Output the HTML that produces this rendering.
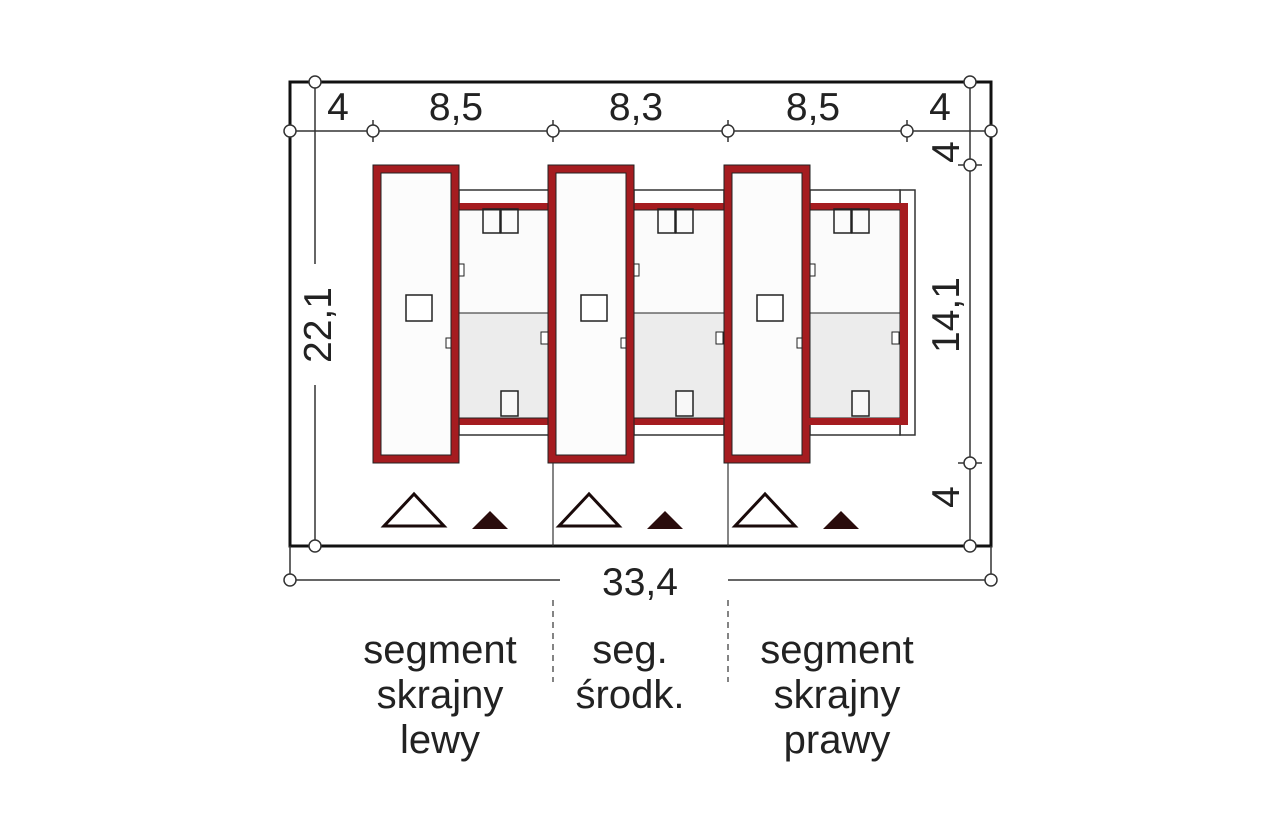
<!DOCTYPE html>
<html><head><style>html,body{margin:0;padding:0;background:#fff;}</style></head>
<body>
<svg width="1280" height="822" viewBox="0 0 1280 822" xmlns="http://www.w3.org/2000/svg" font-family="Liberation Sans, sans-serif">
<defs>
<g id="seg">
  <rect x="459" y="190" width="90" height="245" fill="#fff" stroke="#333" stroke-width="1.5"/>
  <rect x="459" y="203" width="90" height="222" fill="#a51c20"/>
  <rect x="459" y="210" width="90" height="208" fill="#fbfbfb" stroke="#222" stroke-width="1"/>
  <rect x="459" y="313" width="90" height="105" fill="#ececec" stroke="#222" stroke-width="1"/>
  <rect x="483" y="209" width="17" height="24" fill="none" stroke="#222" stroke-width="1.5"/>
  <rect x="501" y="209" width="17" height="24" fill="none" stroke="#222" stroke-width="1.5"/>
  <rect x="501" y="391" width="17" height="25" fill="#f8f8f8" stroke="#222" stroke-width="1.5"/>
  <rect x="459" y="264" width="5" height="12" fill="#fff" stroke="#222" stroke-width="1"/>
  <rect x="541" y="332" width="7" height="12" fill="#fff" stroke="#222" stroke-width="1"/>
  <rect x="373" y="165" width="86" height="298" fill="#a51c20" stroke="#222" stroke-width="1"/>
  <rect x="381" y="173" width="70" height="282" fill="#fcfcfc" stroke="#222" stroke-width="1"/>
  <rect x="406" y="295" width="26" height="26" fill="#fff" stroke="#222" stroke-width="1.5"/>
  <rect x="446" y="338" width="5" height="10" fill="#fff" stroke="#222" stroke-width="1"/>
  <polygon points="414,494 384,526 444,526" fill="#fff" stroke="#1a0a0a" stroke-width="3"/>
  <polygon points="490,511 472,529 508,529" fill="#2a0c0c"/>
</g>
</defs>
<rect x="900" y="190" width="15" height="245" fill="#fff" stroke="#333" stroke-width="1.5"/>
<use href="#seg"/>
<use href="#seg" transform="translate(175,0)"/>
<use href="#seg" transform="translate(351,0)"/>
<rect x="900" y="203" width="8" height="222" fill="#a51c20"/>
<rect x="808" y="418" width="100" height="7" fill="#a51c20"/>
<rect x="290" y="82" width="701" height="464" fill="none" stroke="#111" stroke-width="3"/>
<line x1="553" y1="463" x2="553" y2="546" stroke="#333" stroke-width="1.2"/>
<line x1="728" y1="463" x2="728" y2="546" stroke="#333" stroke-width="1.2"/>
<line x1="553" y1="600" x2="553" y2="682" stroke="#333" stroke-width="1.2" stroke-dasharray="6,5"/>
<line x1="728" y1="600" x2="728" y2="682" stroke="#333" stroke-width="1.2" stroke-dasharray="6,5"/>
<g stroke="#333" stroke-width="1.5" fill="#fff">
  <line x1="290" y1="131" x2="991" y2="131"/>
  <line x1="315" y1="82" x2="315" y2="264"/>
  <line x1="315" y1="385" x2="315" y2="546"/>
  <line x1="970" y1="82" x2="970" y2="546"/>
  <line x1="290" y1="546" x2="290" y2="580"/>
  <line x1="991" y1="546" x2="991" y2="580"/>
  <line x1="290" y1="580" x2="560" y2="580"/>
  <line x1="728" y1="580" x2="991" y2="580"/>
  <line x1="373" y1="120" x2="373" y2="142"/>
  <line x1="553" y1="120" x2="553" y2="142"/>
  <line x1="728" y1="120" x2="728" y2="142"/>
  <line x1="907" y1="120" x2="907" y2="142"/>
  <line x1="958" y1="165" x2="982" y2="165"/>
  <line x1="958" y1="463" x2="982" y2="463"/>
  <circle cx="290" cy="131" r="6"/>
  <circle cx="373" cy="131" r="6"/>
  <circle cx="553" cy="131" r="6"/>
  <circle cx="728" cy="131" r="6"/>
  <circle cx="907" cy="131" r="6"/>
  <circle cx="991" cy="131" r="6"/>
  <circle cx="315" cy="82" r="6"/>
  <circle cx="315" cy="546" r="6"/>
  <circle cx="970" cy="82" r="6"/>
  <circle cx="970" cy="165" r="6"/>
  <circle cx="970" cy="463" r="6"/>
  <circle cx="970" cy="546" r="6"/>
  <circle cx="290" cy="580" r="6"/>
  <circle cx="991" cy="580" r="6"/>
</g>
<g font-size="39" fill="#222" text-anchor="middle">
  <text x="338" y="120">4</text>
  <text x="456" y="120">8,5</text>
  <text x="636" y="120">8,3</text>
  <text x="813" y="120">8,5</text>
  <text x="940" y="120">4</text>
  <text x="640" y="595">33,4</text>
  <text transform="translate(331,325) rotate(-90)">22,1</text>
  <text transform="translate(959,315) rotate(-90)">14,1</text>
  <text transform="translate(959,152) rotate(-90)">4</text>
  <text transform="translate(959,497) rotate(-90)">4</text>
</g>
<g font-size="40" fill="#222" text-anchor="middle">
  <text x="440" y="663">segment</text>
  <text x="440" y="708">skrajny</text>
  <text x="440" y="753">lewy</text>
  <text x="630" y="663">seg.</text>
  <text x="630" y="708">środk.</text>
  <text x="837" y="663">segment</text>
  <text x="837" y="708">skrajny</text>
  <text x="837" y="753">prawy</text>
</g>
</svg>
</body></html>
